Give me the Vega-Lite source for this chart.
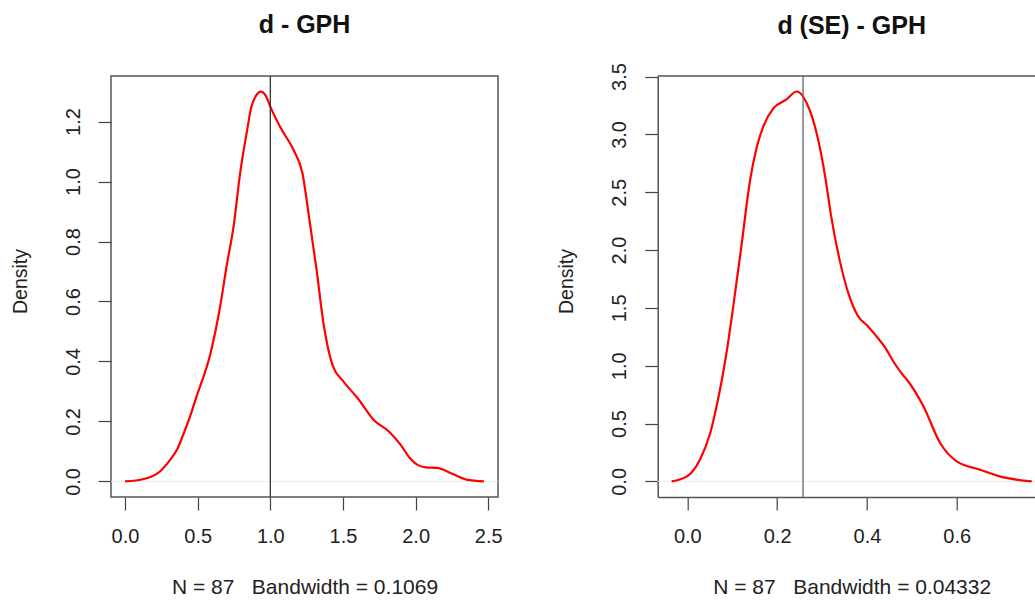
{
  "$schema": "https://vega.github.io/schema/vega-lite/v6.json",
  "background": "white",
  "padding": {"left": 9, "top": 12, "right": 0, "bottom": 0},
  "bounds": "flush",
  "spacing": 159.7,
  "config": {
    "font": "Liberation Sans",
    "view": {"stroke": "#555555", "strokeWidth": 1.5},
    "axis": {
      "grid": false, "domain": false, "tickColor": "#444444", "tickWidth": 1.2, "tickSize": 13,
      "labelFont": "Liberation Sans", "labelFontSize": 20, "labelColor": "#222222",
      "labelFlush": false, "labelOverlap": false,
      "titleFont": "Liberation Sans", "titleFontWeight": "normal", "titleColor": "#222222"
    },
    "axisX": {
      "labelAngle": 0, "labelBaseline": "alphabetic", "labelPadding": 32,
      "titleFontSize": 21, "titleBaseline": "alphabetic", "titleY": 96, "titleAlign": "center"
    },
    "axisY": {
      "labelAngle": -90, "labelAlign": "center", "labelBaseline": "alphabetic", "labelPadding": 19,
      "titleFontSize": 19.5, "titleAngle": -90, "titleBaseline": "alphabetic", "titleAlign": "center",
      "titleX": -85, "titleY": 205
    },
    "title": {
      "font": "Liberation Sans", "fontSize": 25, "fontWeight": "bold", "color": "#111111",
      "frame": "group", "anchor": "middle", "baseline": "alphabetic", "offset": 37
    }
  },
  "datasets": {
    "left": [
      {"x": 0.00, "d": 0.000}, {"x": 0.13, "d": 0.008}, {"x": 0.24, "d": 0.033}, {"x": 0.31, "d": 0.072},
      {"x": 0.36, "d": 0.108}, {"x": 0.40, "d": 0.155}, {"x": 0.45, "d": 0.220}, {"x": 0.49, "d": 0.280},
      {"x": 0.59, "d": 0.430}, {"x": 0.65, "d": 0.570}, {"x": 0.70, "d": 0.720}, {"x": 0.75, "d": 0.860},
      {"x": 0.79, "d": 1.020}, {"x": 0.84, "d": 1.170}, {"x": 0.87, "d": 1.250}, {"x": 0.90, "d": 1.285},
      {"x": 0.935, "d": 1.300}, {"x": 0.97, "d": 1.285}, {"x": 1.00, "d": 1.250}, {"x": 1.07, "d": 1.180},
      {"x": 1.16, "d": 1.105}, {"x": 1.22, "d": 1.030}, {"x": 1.27, "d": 0.870}, {"x": 1.32, "d": 0.700},
      {"x": 1.365, "d": 0.530}, {"x": 1.43, "d": 0.385}, {"x": 1.50, "d": 0.335}, {"x": 1.60, "d": 0.278},
      {"x": 1.71, "d": 0.206}, {"x": 1.82, "d": 0.165}, {"x": 1.90, "d": 0.120}, {"x": 1.96, "d": 0.078},
      {"x": 2.01, "d": 0.056}, {"x": 2.07, "d": 0.047}, {"x": 2.15, "d": 0.045}, {"x": 2.24, "d": 0.028},
      {"x": 2.35, "d": 0.006}, {"x": 2.47, "d": 0.000}
    ],
    "right": [
      {"x": -0.035, "d": 0.000}, {"x": -0.001, "d": 0.043}, {"x": 0.028, "d": 0.188}, {"x": 0.051, "d": 0.418},
      {"x": 0.065, "d": 0.648}, {"x": 0.077, "d": 0.879}, {"x": 0.09, "d": 1.18}, {"x": 0.10, "d": 1.45},
      {"x": 0.12, "d": 2.02}, {"x": 0.14, "d": 2.61}, {"x": 0.155, "d": 2.895}, {"x": 0.169, "d": 3.068},
      {"x": 0.192, "d": 3.227}, {"x": 0.22, "d": 3.30}, {"x": 0.244, "d": 3.371}, {"x": 0.266, "d": 3.27},
      {"x": 0.288, "d": 3.011}, {"x": 0.307, "d": 2.636}, {"x": 0.32, "d": 2.30}, {"x": 0.34, "d": 1.90},
      {"x": 0.36, "d": 1.61}, {"x": 0.38, "d": 1.43}, {"x": 0.40, "d": 1.35}, {"x": 0.42, "d": 1.26},
      {"x": 0.44, "d": 1.16}, {"x": 0.46, "d": 1.03}, {"x": 0.48, "d": 0.92}, {"x": 0.489, "d": 0.879},
      {"x": 0.526, "d": 0.648}, {"x": 0.563, "d": 0.332}, {"x": 0.60, "d": 0.173}, {"x": 0.652, "d": 0.101},
      {"x": 0.696, "d": 0.043}, {"x": 0.767, "d": 0.000}
    ],
    "leftLine": [{"x": 1.0}],
    "rightLine": [{"x": 0.2577}]
  },
  "hconcat": [
    {
      "width": 387, "height": 421,
      "title": {"text": "d - GPH"},
      "layer": [
        {
          "data": {"values": [{}]},
          "mark": {"type": "rule", "color": "#ececec", "strokeWidth": 1},
          "encoding": {"y": {"datum": 0}}
        },
        {
          "data": {"name": "left"},
          "mark": {"type": "line", "color": "#ff0000", "strokeWidth": 2.2, "interpolate": "monotone"},
          "encoding": {
            "x": {"field": "x", "type": "quantitative",
                  "scale": {"domain": [-0.0964, 2.567], "nice": false, "zero": false},
                  "axis": {"values": [0, 0.5, 1, 1.5, 2, 2.5], "format": ".1f", "title": "N = 87\u00a0\u00a0 Bandwidth = 0.1069"}},
            "y": {"field": "d", "type": "quantitative",
                  "scale": {"domain": [-0.052, 1.352], "nice": false, "zero": false},
                  "axis": {"values": [0, 0.2, 0.4, 0.6, 0.8, 1.0, 1.2], "format": ".1f", "title": "Density"}}
          }
        },
        {
          "data": {"name": "leftLine"},
          "mark": {"type": "rule", "color": "#333333", "strokeWidth": 1.3},
          "encoding": {"x": {"field": "x", "type": "quantitative"}}
        }
      ]
    },
    {
      "width": 377.3, "height": 421,
      "view": {"stroke": null},
      "title": {"text": "d (SE) - GPH", "dx": 5.35, "dy": 13},
      "layer": [
        {
          "data": {"values": [{}]},
          "mark": {"type": "rule", "color": "#ececec", "strokeWidth": 1},
          "encoding": {"y": {"datum": 0}}
        },
        {
          "data": {"values": [{}]},
          "mark": {"type": "rule", "color": "#555555", "strokeWidth": 1.5},
          "encoding": {"y": {"datum": 3.505}}
        },
        {
          "data": {"name": "right"},
          "mark": {"type": "line", "color": "#ff0000", "strokeWidth": 2.2, "interpolate": "monotone"},
          "encoding": {
            "x": {"field": "x", "type": "quantitative",
                  "scale": {"domain": [-0.066, 0.7743], "nice": false, "zero": false},
                  "axis": {"values": [0, 0.2, 0.4, 0.6], "format": ".1f", "title": "N = 87\u00a0\u00a0 Bandwidth = 0.04332",
                           "domain": true, "domainColor": "#555555", "domainWidth": 1.5, "titleX": 194}},
            "y": {"field": "d", "type": "quantitative",
                  "scale": {"domain": [-0.135, 3.505], "nice": false, "zero": false},
                  "axis": {"values": [0, 0.5, 1, 1.5, 2, 2.5, 3, 3.5], "format": ".1f", "title": "Density",
                           "domain": true, "domainColor": "#555555", "domainWidth": 1.5}}
          }
        },
        {
          "data": {"name": "rightLine"},
          "mark": {"type": "rule", "color": "#666666", "strokeWidth": 1.3},
          "encoding": {"x": {"field": "x", "type": "quantitative"}}
        }
      ]
    }
  ]
}
